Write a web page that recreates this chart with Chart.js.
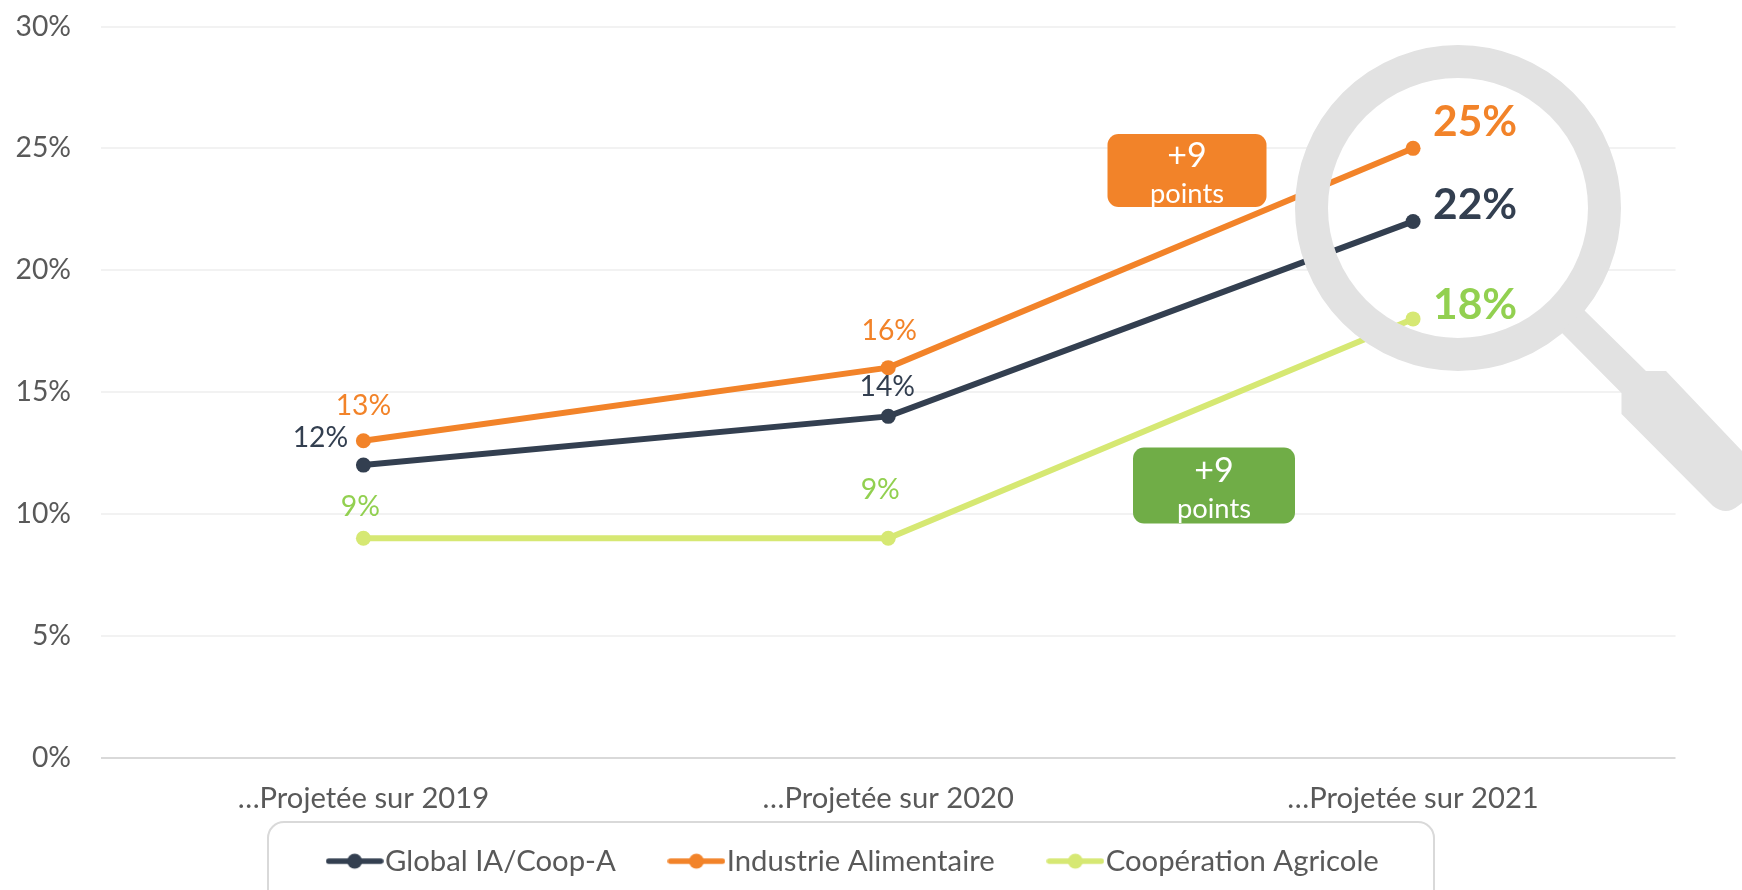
<!DOCTYPE html>
<html lang="fr"><head><meta charset="utf-8">
<style>html,body{margin:0;padding:0;background:#fff;overflow:hidden}canvas{display:block}</style>
<script src="https://cdn.jsdelivr.net/npm/chart.js@4"></script></head>
<body><canvas id="c" width="1742" height="890"></canvas>
<script>
const categories = ['…Projetée sur 2019', '…Projetée sur 2020', '…Projetée sur 2021'];
const globalValues = [12, 14, 22];
const industrieValues = [13, 16, 25];
const cooperationValues = [9, 9, 18];
const seriesNames = ['Global IA/Coop-A', 'Industrie Alimentaire', 'Coopération Agricole'];
const lineColors = ['#333F50', '#F28329', '#D6E873'];
const labelColors = ['#333F50', '#F28329', '#92D050'];
const yTicks = [0, 5, 10, 15, 20, 25, 30];
const badgeTitle = '+9';
const badgeUnit = 'points';
const FONT = 'Lato, "Open Sans", sans-serif';

// label offsets from each point [dx, dy], per series
const labelOffsets = [
  [[-43, -27], [-1, -29], [62, -16]],
  [[0, -35], [1, -37], [62, -26]],
  [[-3, -31], [-8, -48], [62, -14]]
];

const makeMarker = color => {
  const c = document.createElement('canvas');
  c.width = 58; c.height = 18;
  const x = c.getContext('2d');
  x.strokeStyle = color; x.lineWidth = 5.5; x.lineCap = 'round';
  x.beginPath(); x.moveTo(3, 9); x.lineTo(55, 9); x.stroke();
  x.fillStyle = color; x.beginPath(); x.arc(29, 9, 7.5, 0, Math.PI * 2); x.fill();
  return c;
};

const mkDataset = (i, data) => ({
  label: seriesNames[i], data, borderColor: lineColors[i], backgroundColor: lineColors[i],
  borderWidth: 6, pointRadius: 7.5, pointHoverRadius: 7.5,
  pointBackgroundColor: lineColors[i], pointBorderColor: lineColors[i], pointBorderWidth: 0,
  tension: 0, fill: false, clip: false, pointStyle: 'circle'
});

const layoutPlugin = {
  id: 'layoutPlugin',
  beforeInit(chart) {
    const lg = chart.legend;
    const fit = lg.fit.bind(lg);
    lg.fit = function () { fit(); this.height = 0; };
  },
  afterLayout(chart) {
    const lg = chart.legend;
    lg.left = 274; lg.width = 1742 - 274; lg.right = 1742;
    lg.top = 781.5; lg.height = 108.5; lg.bottom = 890;
  }
};

const legendBoxPlugin = {
  id: 'legendBox',
  beforeDraw(chart) {
    const c = chart.ctx;
    c.save();
    c.strokeStyle = '#D9D9D9'; c.lineWidth = 2;
    c.beginPath(); c.roundRect(268, 822, 1166, 100, 16); c.stroke();
    c.restore();
  }
};

const lensCenter = [1458, 208];
const lensPlugin = {
  id: 'lens',
  beforeDatasetsDraw(chart) {
    const c = chart.ctx;
    c.save(); c.fillStyle = '#fff';
    c.beginPath(); c.arc(lensCenter[0], lensCenter[1], 131, 0, Math.PI * 2); c.fill();
    c.restore();
  },
  afterDatasetsDraw(chart) {
    const c = chart.ctx;
    c.save();
    c.strokeStyle = '#E2E2E2'; c.lineWidth = 33;
    c.beginPath(); c.arc(lensCenter[0], lensCenter[1], 146.5, 0, Math.PI * 2); c.stroke();
    c.fillStyle = '#E2E2E2';
    c.beginPath();
    c.moveTo(1561, 332); c.lineTo(1584, 310); c.lineTo(1646, 371); c.lineTo(1666, 371);
    c.lineTo(1760, 470); c.lineTo(1760, 490);
    c.lineTo(1738, 506); c.quadraticCurveTo(1726, 516, 1713, 506);
    c.lineTo(1621.5, 414); c.lineTo(1621.5, 393);
    c.closePath(); c.fill();
    c.restore();
  }
};

const badges = [
  { x: 1107.5, y: 134, w: 159, h: 73, color: '#F28329', titleY: 22, unitY: 60 },
  { x: 1133, y: 447.5, w: 162, h: 76, color: '#70AD47', titleY: 24, unitY: 62 }
];

const overlayPlugin = {
  id: 'overlay',
  afterDraw(chart) {
    const c = chart.ctx;
    c.save();
    // data labels read from the datasets, placed through the scales
    chart.data.datasets.forEach((ds, s) => {
      ds.data.forEach((v, i) => {
        const x = chart.scales.x.getPixelForValue(i) + labelOffsets[s][i][0];
        const y = chart.scales.y.getPixelForValue(v) + labelOffsets[s][i][1];
        c.fillStyle = labelColors[s];
        c.font = (i === 2 ? 'bold 42.5px ' : '28.3px ') + FONT;
        c.textAlign = 'center'; c.textBaseline = 'middle';
        c.fillText(v + '%', x, y);
      });
    });
    badges.forEach(b => {
      c.fillStyle = b.color;
      c.beginPath(); c.roundRect(b.x, b.y, b.w, b.h, 11); c.fill();
      c.fillStyle = '#fff'; c.textAlign = 'center'; c.textBaseline = 'middle';
      c.font = '34px ' + FONT;
      c.fillText(badgeTitle, b.x + b.w / 2, b.y + b.titleY);
      c.font = '27.3px ' + FONT;
      c.fillText(badgeUnit, b.x + b.w / 2, b.y + b.unitY);
    });
    c.restore();
  }
};

new Chart(document.getElementById('c'), {
  type: 'line',
  data: {
    labels: categories,
    datasets: [mkDataset(0, globalValues), mkDataset(1, industrieValues), mkDataset(2, cooperationValues)]
  },
  plugins: [layoutPlugin, legendBoxPlugin, lensPlugin, overlayPlugin],
  options: {
    responsive: false, animation: false, devicePixelRatio: 1,
    layout: { padding: { top: 26.5, right: 66.5, left: 0, bottom: 0 } },
    plugins: {
      tooltip: { enabled: false },
      title: { display: false },
      legend: {
        display: true, position: 'bottom', align: 'start',
        labels: {
          usePointStyle: true, pointStyleWidth: 31.3, boxHeight: 18, padding: 65,
          color: '#595959', font: { family: FONT, size: 29.3 },
          generateLabels: chart => chart.data.datasets.map((d, i) => ({
            text: d.label, pointStyle: makeMarker(lineColors[i]), fontColor: '#595959',
            lineWidth: 0, strokeStyle: 'transparent', fillStyle: lineColors[i], datasetIndex: i, hidden: false
          }))
        }
      }
    },
    scales: {
      x: {
        offset: true,
        grid: { display: false, drawTicks: false },
        border: { display: false },
        afterFit(s) { s.height = 132.5; },
        ticks: { color: '#595959', font: { family: FONT, size: 29.2 }, padding: 24, maxRotation: 0 }
      },
      y: {
        min: 0, max: 30,
        afterBuildTicks(s) { s.ticks = yTicks.map(v => ({ value: v })); },
        afterFit(s) { s.width = 101; s.paddingTop = 0; s.paddingBottom = 0; },
        border: { display: false },
        grid: { drawTicks: false, lineWidth: 2, color: ctx => ctx.tick && ctx.tick.value === 0 ? '#D9D9D9' : '#F2F2F2' },
        ticks: { color: '#595959', font: { family: FONT, size: 28.3 }, padding: 30, callback: v => v + '%' }
      }
    }
  }
});
</script></body></html>
